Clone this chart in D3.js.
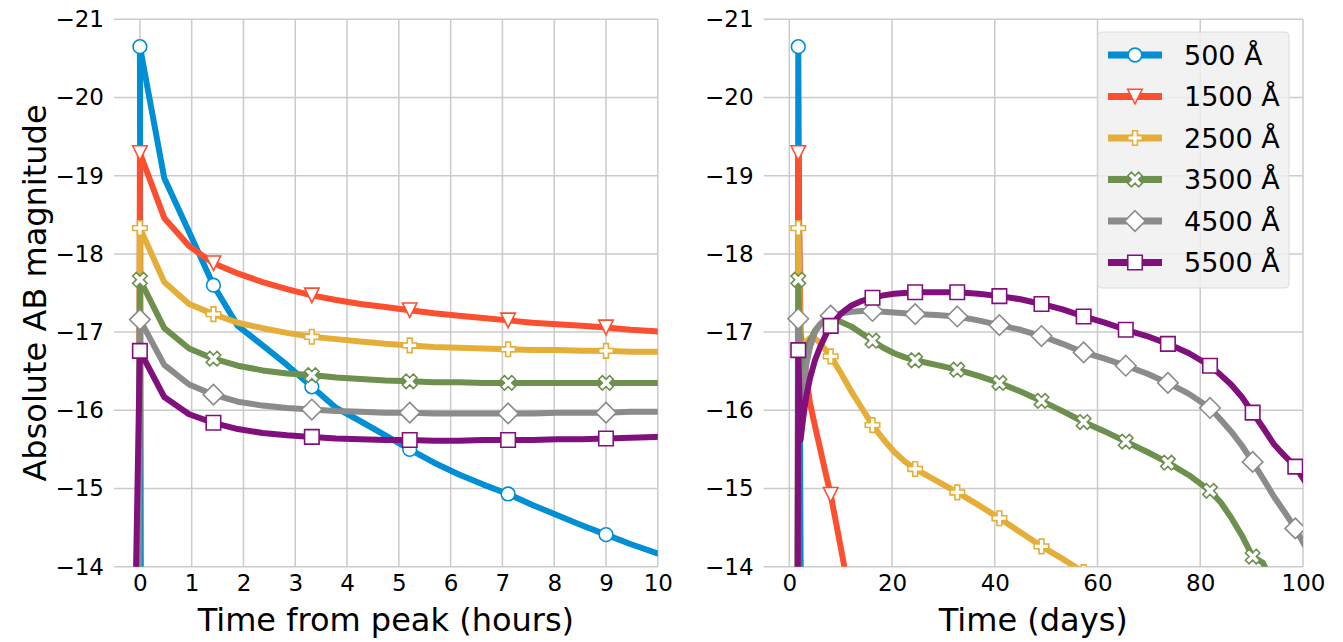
<!DOCTYPE html>
<html>
<head>
<meta charset="utf-8">
<script src="https://cdn.jsdelivr.net/npm/d3@7"></script>
<style>
  body { margin: 0; background: #fff; }
  svg { display: block; }
  text { font-family: "DejaVu Sans", sans-serif; fill: #000; }
</style>
</head>
<body>
<svg id="chart" width="1343" height="642"></svg>
<script>
// ---------------------------------------------------------------
// Light curves of the six bands
// ---------------------------------------------------------------
const bands = ["500 Å", "1500 Å", "2500 Å", "3500 Å", "4500 Å", "5500 Å"];
const colors = ["#008fd5", "#fc4f30", "#e5ae38", "#6d904f", "#8b8b8b", "#810f7c"];
const shapes = ["circle", "triangleDown", "plus", "cross", "diamond", "square"];

// Early decline, hours from peak
const hours = [0, 0.47, 0.95, 1.42, 1.89, 2.37, 2.84, 3.32, 3.79, 4.26, 4.74, 5.21,
               5.68, 6.16, 6.63, 7.11, 7.58, 8.05, 8.53, 9.0, 9.47, 9.95, 10.42];
const hourMarkerIdx = [0, 3, 7, 11, 15, 19];
const riseHours = [0.02, -0.02, -0.03, -0.03, -0.04, -0.1];
const riseHoursMag = [-13, -13, -13, -13, -13, -13];

const hourMag500 = [-20.65, -18.97, -18.28, -17.60, -17.08, -16.83, -16.58, -16.30, -16.03, -15.86, -15.68, -15.50,
                    -15.33, -15.18, -15.05, -14.93, -14.79, -14.66, -14.53, -14.41, -14.29, -14.18, -14.08];
const hourMag1500 = [-19.29, -18.46, -18.10, -17.88, -17.75, -17.64, -17.55, -17.47, -17.41, -17.36, -17.32, -17.28,
                     -17.24, -17.21, -17.18, -17.15, -17.12, -17.10, -17.08, -17.06, -17.03, -17.01, -16.99];
const hourMag2500 = [-18.33, -17.64, -17.36, -17.23, -17.12, -17.05, -16.99, -16.94, -16.91, -16.88, -16.85, -16.83,
                     -16.81, -16.80, -16.79, -16.78, -16.77, -16.77, -16.76, -16.76, -16.75, -16.75, -16.74];
const hourMag3500 = [-17.67, -17.05, -16.79, -16.66, -16.57, -16.51, -16.47, -16.45, -16.42, -16.40, -16.38, -16.37,
                     -16.36, -16.36, -16.35, -16.35, -16.35, -16.35, -16.35, -16.35, -16.35, -16.35, -16.35];
const hourMag4500 = [-17.16, -16.58, -16.33, -16.20, -16.11, -16.06, -16.03, -16.01, -15.99, -15.98, -15.97, -15.97,
                     -15.96, -15.96, -15.96, -15.96, -15.96, -15.97, -15.97, -15.97, -15.98, -15.98, -15.99];
const hourMag5500 = [-16.76, -16.17, -15.95, -15.84, -15.76, -15.71, -15.68, -15.66, -15.64, -15.63, -15.62, -15.62,
                     -15.61, -15.61, -15.62, -15.62, -15.62, -15.63, -15.63, -15.64, -15.65, -15.66, -15.67];

// Full evolution, days
const days = [1.75, 2.2, 2.7, 3.3, 4.0, 5.0, 6.0, 7.0, 8.06, 10.1, 12.1, 14.2, 16.2, 18.3, 20.4, 22.4,
              24.5, 28.6, 32.7, 36.8, 40.9, 45.0, 49.1, 53.2, 57.3, 61.4, 65.5, 69.6, 73.7, 77.8,
              81.9, 84.0, 86.0, 88.1, 90.2, 92.2, 94.3, 96.4, 98.5, 100.6];
const dayMarkerIdx = [0, 8, 12, 16, 18, 20, 22, 24, 26, 28, 30, 34, 38];
const riseDays = [1.6, 1.6, 1.6, 1.6, 1.6, 1.6];
const riseDaysMag = [-12, -12, -12, -12, -12, -12];

const dayMag500 = [-20.65, -14.08, -13.0];
const dayMag1500 = [-19.29, -16.99, -16.75, -16.45, -16.10, -15.80, -15.51, -15.22, -14.92, -14.22, -13.50];
const dayMag2500 = [-18.33, -16.75, -16.82, -16.88, -16.92, -16.92, -16.86, -16.78, -16.69, -16.47, -16.24, -16.02,
                    -15.81, -15.63, -15.47, -15.35, -15.25, -15.10, -14.95, -14.79, -14.62, -14.44, -14.26, -14.10, -13.93];
const dayMag3500 = [-17.67, -16.35, -16.55, -16.73, -16.88, -17.02, -17.10, -17.15, -17.17, -17.13, -17.07, -16.98,
                    -16.89, -16.80, -16.73, -16.68, -16.64, -16.58, -16.52, -16.44, -16.35, -16.24, -16.12, -15.99,
                    -15.85, -15.73, -15.60, -15.47, -15.33, -15.17, -14.97, -14.82, -14.63, -14.40, -14.13, -14.05, -13.75];
const dayMag4500 = [-17.17, -15.98, -16.28, -16.58, -16.80, -17.00, -17.10, -17.16, -17.21, -17.24, -17.26, -17.27,
                    -17.27, -17.26, -17.25, -17.24, -17.23, -17.22, -17.20, -17.15, -17.09, -17.03, -16.95, -16.85,
                    -16.74, -16.66, -16.57, -16.47, -16.35, -16.21, -16.03, -15.88, -15.73, -15.55, -15.34, -15.13,
                    -14.90, -14.70, -14.49, -14.24];
const dayMag5500 = [-16.77, -15.62, -15.90, -16.18, -16.40, -16.64, -16.81, -16.95, -17.08, -17.24, -17.34, -17.40,
                    -17.44, -17.47, -17.49, -17.50, -17.51, -17.51, -17.51, -17.49, -17.46, -17.42, -17.36, -17.29,
                    -17.20, -17.12, -17.03, -16.95, -16.85, -16.73, -16.57, -16.45, -16.33, -16.17, -15.97, -15.78,
                    -15.57, -15.42, -15.28, -15.07];

const magTicks = [-21, -20, -19, -18, -17, -16, -15, -14];
const hourTicks = [0, 1, 2, 3, 4, 5, 6, 7, 8, 9, 10];
const dayTicks = [0, 20, 40, 60, 80, 100];

// ---------------------------------------------------------------
// Drawing
// ---------------------------------------------------------------
const svg = d3.select("#chart");
const LINE_W = 6;
const GRID = "#cbcbcb";
const TICK_FONT = 23;
const TITLE_FONT = 32;

const y = d3.scaleLinear().domain([-21, -14]).range([19.3, 566.7]);

function markerPath(shape, s) {
  const h = s / 2;
  if (shape === "circle") {
    const r = h - 0.4;
    return `M${r},0A${r},${r} 0 1,1 ${-r},0A${r},${r} 0 1,1 ${r},0Z`;
  }
  if (shape === "triangleDown") return `M${-h},${-h}L${h},${-h}L0,${h}Z`;
  if (shape === "square") return `M${-h},${-h}H${h}V${h}H${-h}Z`;
  if (shape === "diamond") {
    const d = h * Math.SQRT2;
    return `M0,${-d}L${d},0L0,${d}L${-d},0Z`;
  }
  if (shape === "plus") {
    const pts = [[-1, -3], [1, -3], [1, -1], [3, -1], [3, 1], [1, 1], [1, 3], [-1, 3], [-1, 1], [-3, 1], [-3, -1], [-1, -1]];
    return "M" + pts.map(p => [p[0] / 6 * s, p[1] / 6 * s].join(",")).join("L") + "Z";
  }
  // filled x
  const pts = [[-1, -2], [0, -1], [1, -2], [2, -1], [1, 0], [2, 1], [1, 2], [0, 1], [-1, 2], [-2, 1], [-1, 0], [-2, -1]];
  return "M" + pts.map(p => [p[0] / 4 * s, p[1] / 4 * s].join(",")).join("L") + "Z";
}

function drawPanel(cfg) {
  const x = d3.scaleLinear().domain(cfg.xDomain).range(cfg.xRange);
  const g = svg.append("g");
  const [x0, x1] = cfg.xRange;
  const [y0, y1] = y.range();

  // grid
  g.append("g").selectAll("line").data(magTicks).join("line")
    .attr("x1", x0).attr("x2", x1)
    .attr("y1", d => y(d)).attr("y2", d => y(d))
    .attr("stroke", GRID).attr("stroke-width", 1.5);
  g.append("g").selectAll("line").data(cfg.xTicks).join("line")
    .attr("x1", d => x(d)).attr("x2", d => x(d))
    .attr("y1", y0).attr("y2", y1)
    .attr("stroke", GRID).attr("stroke-width", 1.5);

  // tick labels
  const yAxis = d3.axisLeft(y).tickValues(magTicks).tickSize(0).tickPadding(10)
    .tickFormat(d => d3.format("d")(d).replace("-", "\u2212"));
  const ya = g.append("g").attr("transform", `translate(${x0},0)`).call(yAxis);
  ya.select(".domain").remove();
  ya.selectAll("text").attr("font-size", TICK_FONT).attr("font-family", "DejaVu Sans").attr("fill", "#000");

  const xAxis = d3.axisBottom(x).tickValues(cfg.xTicks).tickSize(0).tickPadding(8)
    .tickFormat(d3.format("d"));
  const xa = g.append("g").attr("transform", `translate(0,${y1})`).call(xAxis);
  xa.select(".domain").remove();
  xa.selectAll("text").attr("font-size", TICK_FONT).attr("font-family", "DejaVu Sans").attr("fill", "#000");

  // axis titles
  g.append("text").attr("x", (x0 + x1) / 2).attr("y", 631)
    .attr("text-anchor", "middle").attr("font-size", TITLE_FONT).text(cfg.xTitle);
  if (cfg.yTitle) {
    g.append("text").attr("transform", `translate(46,${(y0 + y1) / 2}) rotate(-90)`)
      .attr("text-anchor", "middle").attr("font-size", TITLE_FONT).text(cfg.yTitle);
  }

  // data, clipped to the axes box
  const clipId = "clip-" + cfg.id;
  svg.append("clipPath").attr("id", clipId).append("rect")
    .attr("x", x0).attr("y", y0).attr("width", x1 - x0).attr("height", y1 - y0);
  const plot = g.append("g").attr("clip-path", `url(#${clipId})`);
  const line = d3.line().x(d => x(d[0])).y(d => y(d[1]));

  cfg.mags.forEach((mags, k) => {
    const pts = [[cfg.rise[k], cfg.riseMag[k]]].concat(mags.map((m, i) => [cfg.times[i], m]));
    plot.append("path").datum(pts).attr("d", line)
      .attr("fill", "none").attr("stroke", colors[k]).attr("stroke-width", LINE_W)
      .attr("stroke-linejoin", "round").attr("stroke-linecap", "butt");
    const marks = cfg.markerIdx.filter(i => i < mags.length).map(i => [cfg.times[i], mags[i]]);
    plot.append("g").selectAll("path").data(marks).join("path")
      .attr("transform", d => `translate(${x(d[0])},${y(d[1])})`)
      .attr("d", markerPath(shapes[k], 14.5))
      .attr("fill", "#fff").attr("stroke", colors[k]).attr("stroke-width", 1.6);
  });
  return { x, g };
}

drawPanel({
  id: "hours",
  xDomain: [-0.5, 10], xRange: [114, 657.8], xTicks: hourTicks,
  times: hours, markerIdx: hourMarkerIdx, rise: riseHours, riseMag: riseHoursMag,
  mags: [hourMag500, hourMag1500, hourMag2500, hourMag3500, hourMag4500, hourMag5500],
  xTitle: "Time from peak (hours)", yTitle: "Absolute AB magnitude"
});

drawPanel({
  id: "days",
  xDomain: [-5, 100], xRange: [763.6, 1303], xTicks: dayTicks,
  times: days, markerIdx: dayMarkerIdx, rise: riseDays, riseMag: riseDaysMag,
  mags: [dayMag500, dayMag1500, dayMag2500, dayMag3500, dayMag4500, dayMag5500],
  xTitle: "Time (days)", yTitle: null
});

// legend
const leg = svg.append("g").attr("transform", "translate(1098,32)");
leg.append("rect").attr("width", 191).attr("height", 256).attr("rx", 4)
  .attr("fill", "#f0f0f0").attr("fill-opacity", 0.85).attr("stroke", "#dcdcdc").attr("stroke-width", 1);
const rows = leg.selectAll("g.row").data(bands).join("g").attr("class", "row")
  .attr("transform", (d, i) => `translate(0,${23 + i * 41.5})`);
rows.append("line").attr("x1", 10).attr("x2", 64).attr("y1", 0).attr("y2", 0)
  .attr("stroke", (d, i) => colors[i]).attr("stroke-width", LINE_W + 1);
rows.append("path").attr("transform", "translate(37,0)")
  .attr("d", (d, i) => markerPath(shapes[i], 14.5))
  .attr("fill", "#fff").attr("stroke", (d, i) => colors[i]).attr("stroke-width", 1.6);
rows.append("text").attr("x", 86).attr("y", 0).attr("dy", "0.36em")
  .attr("font-size", 27).text(d => d);
</script>
</body>
</html>
